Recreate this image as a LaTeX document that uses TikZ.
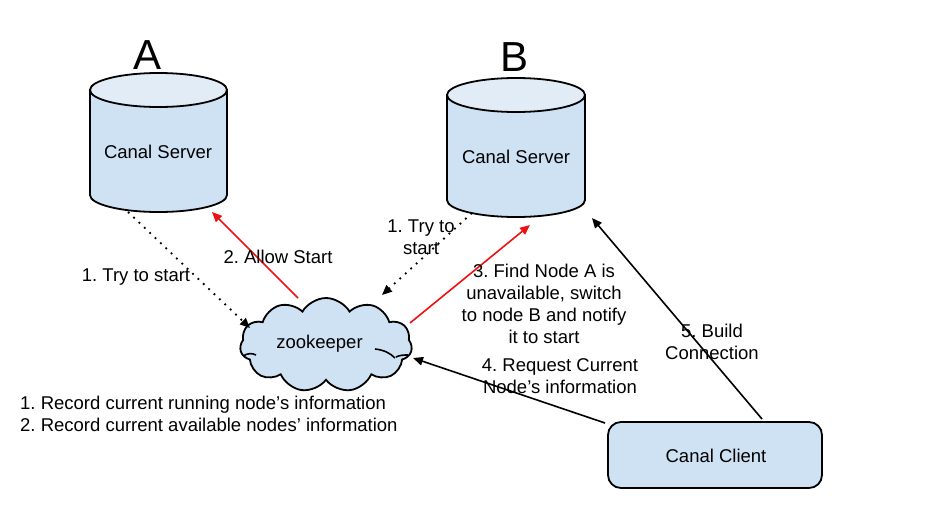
\documentclass[tikz,border=0pt]{standalone}
\usepackage{fontspec}
\setmainfont{Liberation Sans}
\usetikzlibrary{arrows.meta,shapes.symbols,calc}
\frenchspacing
\definecolor{boxblue}{HTML}{CFE2F3}
\definecolor{topblue}{HTML}{E1ECF7}
\definecolor{arrred}{HTML}{EE1111}
\tikzset{
  txt/.style={font=\fontsize{18.5}{22}\selectfont\frenchspacing, inner sep=0pt, align=center},
  bigletter/.style={font=\fontsize{42}{46}\selectfont, inner sep=0pt},
  tip/.style={-{Triangle[length=10pt,width=8.5pt]}},
  dotline/.style={tip, line width=1.8pt, dash pattern=on 1.8pt off 5.6pt},
  redline/.style={tip, draw=arrred, line width=1.6pt},
  blackline/.style={tip, line width=1.6pt},
  shapeline/.style={line width=1.8pt, draw=black},
}
\begin{document}
\begin{tikzpicture}[x=1pt,y=-1pt]
\useasboundingbox[fill=white] (0,0) rectangle (937,512);

% Cylinder A
\node[minimum width=137pt, minimum height=139pt, inner sep=0pt] (cylA) at (158.5,142.5) {};
\draw[shapeline, fill=boxblue] (90,90) -- (90,195) arc[start angle=180, end angle=360, x radius=68.5pt, y radius=17pt] -- (227,90) -- cycle;
\draw[shapeline, fill=topblue] (158.5,90) ellipse [x radius=68.5pt, y radius=17pt];
\node[txt] (srvA) at (158,152) {Canal Server};
\node[bigletter] (labA) at (148,55) {A};

% Cylinder B
\node[minimum width=138pt, minimum height=139pt, inner sep=0pt] (cylB) at (516,147.5) {};
\draw[shapeline, fill=boxblue] (447,95) -- (447,200) arc[start angle=180, end angle=360, x radius=69pt, y radius=17pt] -- (585,95) -- cycle;
\draw[shapeline, fill=topblue] (516,95) ellipse [x radius=69pt, y radius=17pt];
\node[txt] (srvB) at (516,157) {Canal Server};
\node[bigletter] (labB) at (515,57) {B};

% Zookeeper cloud
\node[cloud, cloud puffs=11, cloud puff arc=120, aspect=1.85, shapeline, fill=boxblue,
      minimum width=172pt, minimum height=94pt, inner sep=0pt] (zk) at (326,345) {};
\draw[shapeline, line width=1.6pt] (243,356) .. controls (248,353) and (252,353) .. (256,355);
\draw[shapeline, line width=1.6pt] (375,349) .. controls (384,350) and (390,353) .. (395,358);
\draw[shapeline, line width=1.6pt] (396,357) .. controls (400,355) and (404,355) .. (408,355);
\node[txt] (zkt) at (319.5,344) {zookeeper};

% Canal Client
\node[shapeline, fill=boxblue, rounded corners=13pt, minimum width=214pt, minimum height=66pt, inner sep=0pt] (client) at (715,455) {};
\node[txt] (clientt) at (716,456) {Canal Client};

% connector ends
\coordinate (aBot) at (128,212);
\coordinate (aIn) at (212,212);
\coordinate (zkL) at (250,328);
\coordinate (zkT) at (298,298);
\coordinate (zkTR) at (382,295);
\coordinate (zkR) at (410,323);
\coordinate (zkBR) at (413,358);
\coordinate (bBot) at (472,213);
\coordinate (bIn) at (530,225);
\coordinate (bRt) at (592,218);
\coordinate (cL) at (605,423);
\coordinate (cT) at (762,419);

\draw[dotline] (aBot) -- (zkL);
\draw[redline] (zkT) -- (aIn);
\draw[dotline] (bBot) -- (zkTR);
\draw[redline] (zkR) -- (bIn);
\draw[blackline] (cL) -- (zkBR);
\draw[blackline] (cT) -- (bRt);

% labels
\node[txt] (l1) at (136,277) {1. Try to start};
\node[txt] (l2) at (278,257) {2. Allow Start};
\node[txt] (l1b) at (421,237.5) {1. Try to\\start};
\node[txt] (l3) at (544,304) {3. Find Node A is\\unavailable, switch\\to node B and notify\\it to start};
\node[txt] (l4) at (560,376.5) {4. Request Current\\Node’s information};
\node[txt] (l5) at (712,342) {5. Build\\Connection};
\node[txt, align=left, anchor=west] (rec) at (20,414) {1. Record current running node’s information\\2. Record current available nodes’ information};
\end{tikzpicture}
\end{document}
